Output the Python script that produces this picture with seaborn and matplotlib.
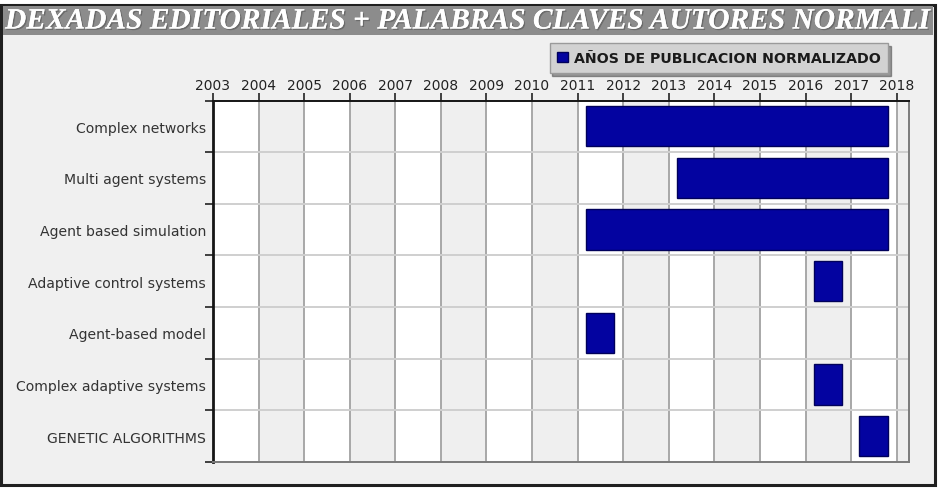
import numpy as np
import seaborn as sns
import matplotlib.pyplot as plt
from matplotlib.patches import Rectangle, Patch
import matplotlib.patheffects as pe

# keywords and the first / last year each one shows up
terms = ["Complex networks", "Multi agent systems", "Agent based simulation",
         "Adaptive control systems", "Agent-based model",
         "Complex adaptive systems", "GENETIC ALGORITHMS"]
first_year = [2011, 2013, 2011, 2016, 2011, 2016, 2017]
last_year = [2017, 2017, 2017, 2016, 2011, 2016, 2017]
years = list(range(2003, 2019))

title = "DEXADAS EDITORIALES + PALABRAS CLAVES AUTORES NORMALI"
legend_label = "AÑOS DE PUBLICACION NORMALIZADO"

sns.set_theme(style="white")
plt.rcParams['font.family'] = ['DejaVu Sans']

W, H = 941, 489
fig = plt.figure(figsize=(W / 100, H / 100), dpi=100)
fig.patch.set_facecolor("white")

# outer frame, light gray panel and title band (behind the axes)
fig.patches.append(Rectangle((1 / W, 1 - 486 / H), 934 / W, 480 / H,
                             transform=fig.transFigure, facecolor="#f0f0f0",
                             edgecolor="#202020", linewidth=2.2, zorder=-3))
fig.patches.append(Rectangle((3 / W, 1 - 36 / H), 930 / W, 29 / H,
                             transform=fig.transFigure, facecolor="#8c8c8c",
                             edgecolor="none", zorder=-2))
fig.text(5 / W, 1 - 22 / H, title, ha="left", va="center", color="white",
         family=["Liberation Serif", "DejaVu Serif"], fontsize=21.2,
         fontweight="bold", fontstyle="italic", zorder=2,
         path_effects=[pe.withSimplePatchShadow(offset=(1, -1), shadow_rgbFace="#555555", alpha=0.6),
                       pe.Normal()])

ax = fig.add_axes([213 / W, 1 - 463 / H, 696 / W, 361.5 / H])
ax.set_facecolor("white")

x_max = 2018.27
# alternating light gray columns
for i, yr in enumerate(years):
    if i % 2 == 1:
        ax.axvspan(yr, min(yr + 1, x_max), color="#efefef", zorder=0, lw=0)
for yr in years[1:]:
    ax.axvline(yr, color="#a8a8a8", lw=1.4, zorder=1)
for b in np.arange(0.5, len(terms) - 1, 1):
    ax.axhline(b, color="#cfcfcf", lw=1.4, zorder=1)

rows = np.arange(len(terms))
starts = np.array(first_year) + 0.18
widths = np.array(last_year) + 0.8 - starts
ax.barh(rows, widths, left=starts, height=0.78, color="#0303a0",
        edgecolor="#00005a", linewidth=1, zorder=3, label=legend_label)

ax.set_xlim(2003, x_max)
ax.set_ylim(len(terms) - 0.5, -0.5)

ax.xaxis.tick_top()
ax.set_xticks(years)
ax.set_xticklabels([str(y) for y in years], fontsize=10, color="#222222")
ax.tick_params(axis="x", direction="out", length=6, width=1.2, color="#222222", pad=0)

ax.set_yticks(rows)
ax.set_yticklabels(terms, fontsize=10.1, color="#333333")
ax.tick_params(axis="y", which="major", length=0, pad=5)
ax.set_yticks(np.arange(-0.5, len(terms), 1), minor=True)
ax.tick_params(axis="y", which="minor", direction="out", length=6, width=1.2,
               color="#222222", left=True)

for side in ["left", "top"]:
    ax.spines[side].set_color("#151515")
ax.spines["left"].set_linewidth(2)
ax.spines["top"].set_linewidth(1.4)
for side in ["right", "bottom"]:
    ax.spines[side].set_color("#7a7a7a")
    ax.spines[side].set_linewidth(1.4)

handle = Patch(facecolor="#0303a0", edgecolor="#00005a")
leg = fig.legend(handles=[handle], labels=[legend_label],
                 loc="center", bbox_to_anchor=(719 / W, 1 - 59 / H),
                 frameon=True, fancybox=False, shadow=True, handlelength=0.75,
                 handleheight=0.75, handletextpad=0.4, borderpad=0.55,
                 prop={"weight": "bold", "size": 10.2})
leg.get_frame().set_facecolor("#d2d2d2")
leg.get_frame().set_edgecolor("#9a9a9a")
leg.get_frame().set_alpha(1)
for t in leg.get_texts():
    t.set_color("#1a1a1a")

fig.savefig("out.png", dpi=100)
